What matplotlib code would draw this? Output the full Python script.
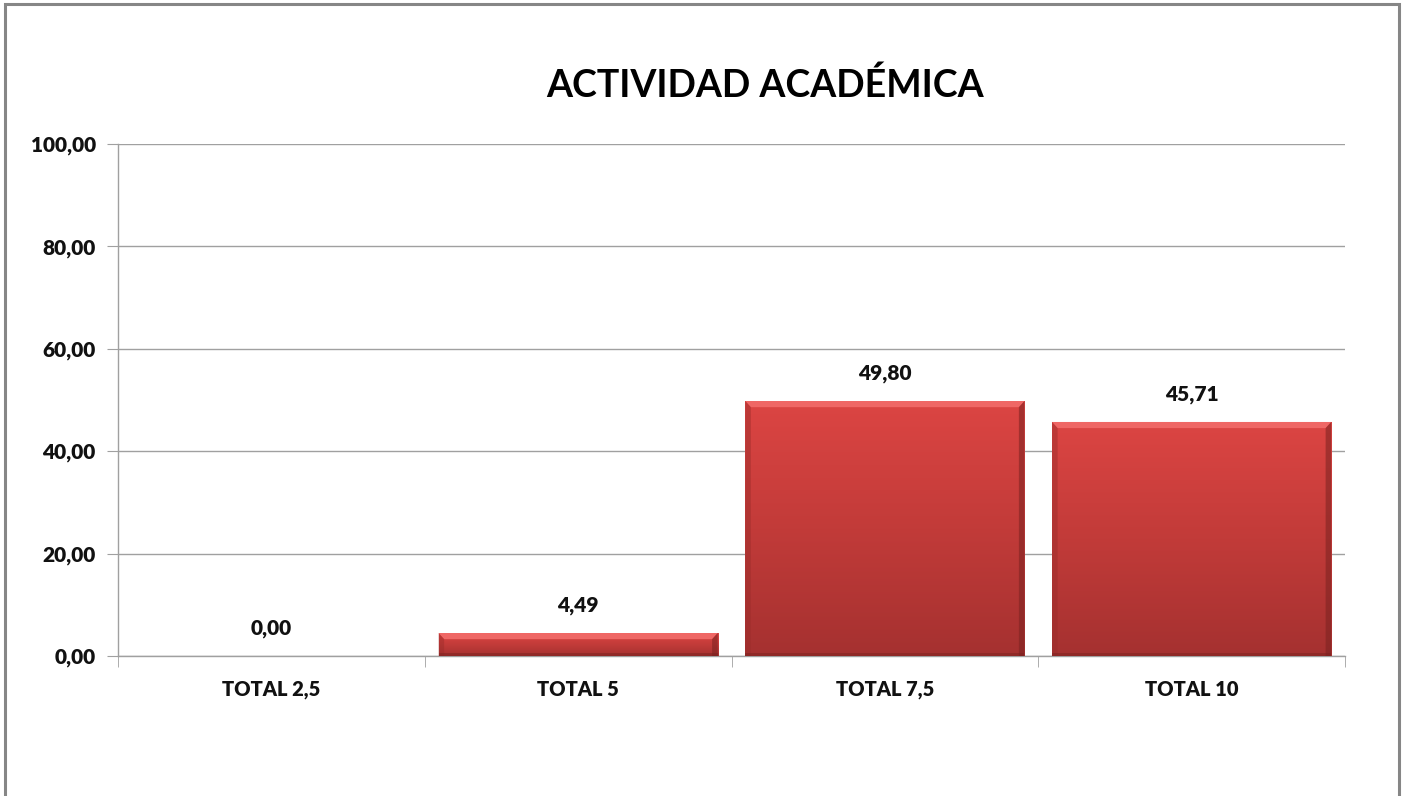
import numpy as np
import matplotlib
matplotlib.use("Agg")
import matplotlib.pyplot as plt
from matplotlib.colors import LinearSegmentedColormap
from matplotlib.patches import Rectangle, Polygon

# chart data
categories = ["TOTAL 2,5", "TOTAL 5", "TOTAL 7,5", "TOTAL 10"]
values = [0.00, 4.49, 49.80, 45.71]
title = "ACTIVIDAD ACADÉMICA"

plt.rcParams['font.family'] = ['Lato', 'DejaVu Sans']
plt.rcParams['font.weight'] = 'bold'

fig = plt.figure(figsize=(14.02, 7.96), dpi=100)
W, H = 1402, 796

# outer chart border (Excel chart area)
fig.patches.append(Rectangle((5 / W, -0.01), (1399 - 5) / W, 1.01 - 4 / H,
                             transform=fig.transFigure, fill=False,
                             edgecolor='#868686', linewidth=2.2))

ax = fig.add_axes([118 / W, 1 - 656 / H, (1345 - 118) / W, (656 - 144) / H])

x = np.arange(len(categories))
bars = ax.bar(x, values, width=0.91, color='#c83c3a', zorder=2)

# gradient + bevel on each bar
grad = LinearSegmentedColormap.from_list('redgrad', ['#a53130', '#c23b39', '#dc4543'])
for b in bars:
    x0, y0 = b.get_x(), b.get_y()
    w, h = b.get_width(), b.get_height()
    if h <= 0:
        continue
    g = np.linspace(0, 1, 256).reshape(-1, 1)
    im = ax.imshow(g, cmap=grad, aspect='auto', origin='lower',
                   extent=[x0, x0 + w, y0, y0 + h], zorder=3)
    im.set_clip_path(b)
    b.set_facecolor('none')
    # bevel: light top strip with slanted ends, darker sides
    bh = min(1.2, h * 0.3)
    dx = w * 0.02
    ax.add_patch(Polygon([(x0, y0 + h), (x0 + w, y0 + h),
                          (x0 + w - dx, y0 + h - bh), (x0 + dx, y0 + h - bh)],
                         closed=True, facecolor='#f26c6a', edgecolor='none',
                         zorder=4, alpha=0.9))
    ax.add_patch(Polygon([(x0, y0), (x0, y0 + h), (x0 + dx, y0 + h - bh),
                          (x0 + dx, y0)], closed=True, facecolor='#9a2c2a',
                         edgecolor='none', zorder=4, alpha=0.45))
    ax.add_patch(Polygon([(x0 + w, y0), (x0 + w, y0 + h),
                          (x0 + w - dx, y0 + h - bh), (x0 + w - dx, y0)],
                         closed=True, facecolor='#7a2220', edgecolor='none',
                         zorder=4, alpha=0.55))
    ax.add_patch(Rectangle((x0, y0), w, 0.5, facecolor='#7a2220',
                           edgecolor='none', zorder=4, alpha=0.5))

# data labels
for xi, v in zip(x, values):
    ax.annotate(f"{v:.2f}".replace('.', ','), (xi, v), xytext=(0, 13),
                textcoords='offset points', ha='center', va='bottom',
                fontsize=15, fontweight='heavy', color='#111111')

ax.set_xlim(-0.5, len(categories) - 0.5)
ax.set_ylim(0, 100)
ax.set_yticks(np.arange(0, 101, 20))
ax.set_yticklabels([f"{t:.2f}".replace('.', ',') for t in np.arange(0, 101, 20)])
ax.set_xticks(x)
ax.set_xticklabels(categories)
ax.set_xticks(np.arange(-0.5, len(categories), 1), minor=True)

ax.grid(axis='y', color='#a0a0a0', linewidth=1.0, zorder=0)
ax.set_axisbelow(True)
for s in ['top', 'right']:
    ax.spines[s].set_visible(False)
for s in ['left', 'bottom']:
    ax.spines[s].set_color('#a0a0a0')
    ax.spines[s].set_linewidth(1.0)

ax.tick_params(axis='y', length=8, color='#a0a0a0', labelsize=15, pad=8,
               labelcolor='#111111')
ax.tick_params(axis='x', which='major', length=0, labelsize=14.5, pad=17,
               labelcolor='#111111')
ax.tick_params(axis='x', which='minor', length=8, color='#a0a0a0')
for lab in ax.get_xticklabels() + ax.get_yticklabels():
    lab.set_fontweight('heavy')

fig.text(765 / W, 1 - 85 / H, title, ha='center', va='center',
         fontsize=27, fontweight='bold', color='black')

fig.savefig('out.png', dpi=100)
